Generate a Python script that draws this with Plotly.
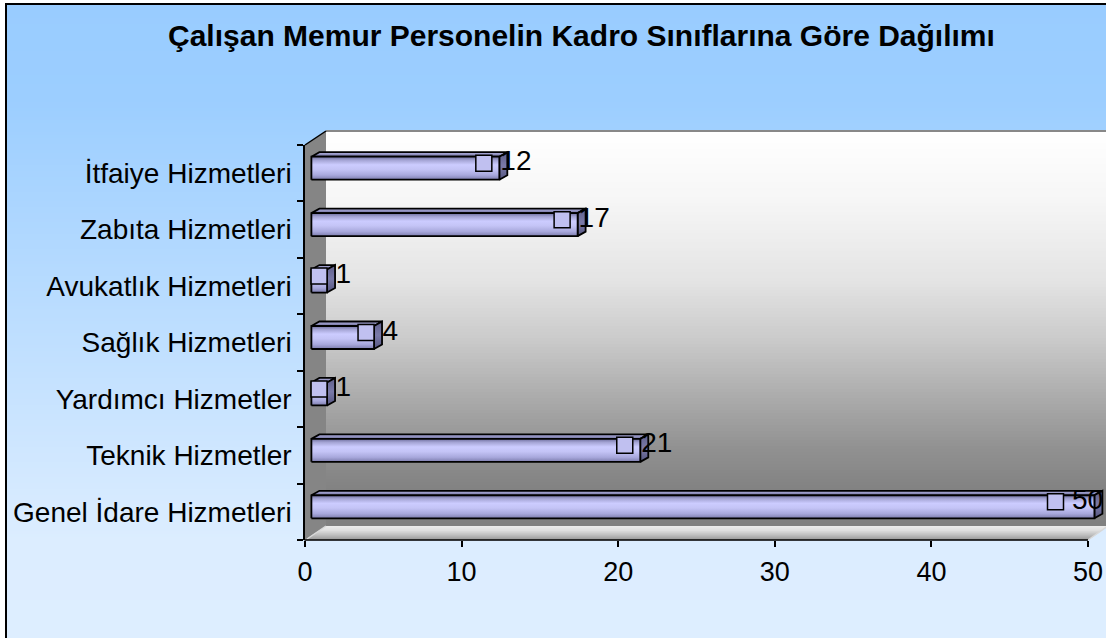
import plotly.graph_objects as go

categories = ["Genel İdare Hizmetleri", "Teknik Hizmetler", "Yardımcı Hizmetler",
              "Sağlık Hizmetleri", "Avukatlık Hizmetleri", "Zabıta Hizmetleri",
              "İtfaiye Hizmetleri"]
values = [50, 21, 1, 4, 1, 17, 12]
x_ticks = [0, 10, 20, 30, 40, 50]
title = "Çalışan Memur Personelin Kadro Sınıflarına Göre Dağılımı"

W, H = 1106, 638
L, R, T, B = 305, 1106, 145, 540      # plot area in pixels
PX_X = 15.66                           # pixels per unit on x
XMAX = (R - L) / PX_X
PX_Y = (B - T) / len(categories)      # pixels per category
FONT = "Liberation Sans, Arial, sans-serif"


def px(x):
    return (x - L) / (R - L)


def py(y):
    return (B - y) / (B - T)


def dx(p):
    return p / PX_X


def dy(p):
    return p / PX_Y


def hexc(c):
    return "#%02x%02x%02x" % tuple(int(round(v)) for v in c)


def interp(stops, y):
    for (y0, c0), (y1, c1) in zip(stops, stops[1:]):
        if y0 <= y <= y1:
            t = (y - y0) / (y1 - y0) if y1 > y0 else 0
            return hexc([a + (b - a) * t for a, b in zip(c0, c1)])
    return hexc(stops[-1][1])


shapes = []

# chart background gradient
bg_stops = [(0, (153, 204, 255)), (100, (156, 206, 255)), (540, (220, 237, 255)), (660, (222, 238, 255))]
for y in range(3, H, 3):
    shapes.append(dict(type="rect", xref="paper", yref="paper", layer="below",
                       x0=px(5), x1=px(W + 2), y0=py(y), y1=py(y + 3.5),
                       fillcolor=interp(bg_stops, y + 1.5), line_width=0))

# back wall gradient
wall_stops = [(131, (255, 255, 255)), (200, (246, 246, 246)), (280, (228, 228, 228)),
              (340, (202, 202, 202)), (400, (170, 170, 170)), (450, (144, 144, 144)),
              (490, (130, 130, 130)), (530, (128, 128, 128))]
for y in range(131, 526, 3):
    shapes.append(dict(type="rect", xref="paper", yref="paper", layer="below",
                       x0=px(326), x1=px(W + 10), y0=py(y), y1=py(min(y + 3.5, 526)),
                       fillcolor=interp(wall_stops, y + 1.5), line_width=0))
shapes.append(dict(type="line", xref="paper", yref="paper", layer="below",
                   x0=px(326), x1=px(W + 10), y0=py(131), y1=py(131),
                   line=dict(color="#888888", width=2)))

# side wall
shapes.append(dict(type="path", xref="paper", yref="paper", layer="below",
                   path="M %f %f L %f %f L %f %f L %f %f Z" % (
                       px(305), py(145), px(326), py(131), px(326), py(526), px(305), py(540)),
                   fillcolor="#858585", line_width=0))
shapes.append(dict(type="line", xref="paper", yref="paper", layer="below",
                   x0=px(305), y0=py(145), x1=px(326), y1=py(131),
                   line=dict(color="black", width=1.5)))

# floor
floor_stops = [(526, (236, 236, 236)), (530, (225, 225, 225)), (535, (190, 190, 190)), (540, (150, 150, 150))]
for y in range(526, 540):
    xl0, xl1 = 305 + (540 - y) * 1.5, 305 + (540 - y - 1) * 1.5
    xr0, xr1 = 1088 + (540 - y) * 1.43, 1088 + (540 - y - 1) * 1.43
    shapes.append(dict(type="path", xref="paper", yref="paper", layer="below",
                       path="M %f %f L %f %f L %f %f L %f %f Z" % (
                           px(xl0), py(y), px(xr0), py(y), px(xr1), py(y + 1.2), px(xl1), py(y + 1.2)),
                       fillcolor=interp(floor_stops, y + 0.5), line_width=0))
shapes.append(dict(type="line", xref="paper", yref="paper", layer="below",
                   x0=px(307), y0=py(539), x1=px(326), y1=py(526),
                   line=dict(color="#d8d8d8", width=1.5)))
shapes.append(dict(type="line", xref="paper", yref="paper", layer="below",
                   x0=px(1088), y0=py(540), x1=px(1108), y1=py(526),
                   line=dict(color="#d8d8d8", width=1.5)))

# x axis line (front edge of the floor)
shapes.append(dict(type="line", xref="paper", yref="paper",
                   x0=px(L - 0.5), y0=0, x1=x_ticks[-1] / XMAX, y1=0,
                   line=dict(color="black", width=1.5)))

# outer border
shapes.append(dict(type="line", xref="paper", yref="paper",
                   x0=px(6), y0=py(4), x1=px(6), y1=py(H + 2), line=dict(color="black", width=2)))
shapes.append(dict(type="line", xref="paper", yref="paper",
                   x0=px(5), y0=py(4), x1=px(W + 2), y1=py(4), line=dict(color="black", width=2)))

fig = go.Figure()

front_scale = [[0, "#7c7cac"], [0.2, "#a8a8dc"], [0.45, "#c4c4f6"], [0.65, "#ccccff"],
               [0.85, "#a4a4d4"], [1, "#6c6c9c"]]
top_scale = [[0, "#6e6e9a"], [1, "#b4b4e4"]]
side_scale = [[0, "#55557f"], [0.5, "#7a7aa8"], [1, "#60608c"]]

bx0 = dx(6.4)
bh = dy(11.5)
ddx, ddy = dx(8), dy(4.5)
outline = dict(color="black", width=1.8)

for i, v in enumerate(values):
    yc = i + dy(5)
    y0, y1 = yc - bh, yc + bh
    x1 = bx0 + v
    # top face
    fig.add_trace(go.Scatter(
        x=[bx0, x1, x1 + ddx, bx0 + ddx, bx0], y=[y1, y1, y1 + ddy, y1 + ddy, y1],
        mode="lines", fill="toself", line=outline,
        fillgradient=dict(type="vertical", colorscale=top_scale), hoverinfo="skip"))
    # end face
    fig.add_trace(go.Scatter(
        x=[x1, x1 + ddx, x1 + ddx, x1, x1], y=[y0, y0 + ddy, y1 + ddy, y1, y0],
        mode="lines", fill="toself", line=outline,
        fillgradient=dict(type="vertical", colorscale=side_scale), hoverinfo="skip"))
    # front face
    fig.add_trace(go.Scatter(
        x=[bx0, x1, x1, bx0, bx0], y=[y0, y0, y1, y1, y0],
        mode="lines", fill="toself", line=outline,
        fillgradient=dict(type="vertical", colorscale=front_scale), hoverinfo="skip"))

# data labels with legend key
key_x, key_y, lab_x = [], [], []
for i, v in enumerate(values):
    end = 6.4 + v * PX_X
    w = 17 + 9 + 15 * len(str(v))
    c = end + 4
    over = c + w / 2 - (1103 - L)
    if over > 0:
        c -= over
    key_x.append(dx(c - w / 2 + 8.5))
    lab_x.append(dx(c - w / 2 + 17 + 8))
    key_y.append(i + dy(10))

fig.add_trace(go.Scatter(
    x=key_x, y=key_y, mode="markers",
    marker=dict(symbol="square", size=16, color="#c0c0f0", line=dict(color="black", width=1.5)),
    cliponaxis=False, hoverinfo="skip"))
fig.add_trace(go.Scatter(
    x=lab_x, y=key_y, mode="text", text=[str(v) for v in values],
    textposition="middle right", textfont=dict(family=FONT, size=28, color="black"),
    cliponaxis=False, hoverinfo="skip"))

fig.add_annotation(text="<b>" + title + "</b>", xref="paper", yref="paper",
                   x=px(581), y=py(35), xanchor="center", yanchor="middle", showarrow=False,
                   font=dict(family=FONT, size=30, color="black"))

fig.update_layout(
    width=W, height=H, template="none",
    margin=dict(l=L, r=W - R, t=T, b=H - B, pad=0),
    paper_bgcolor="white", plot_bgcolor="rgba(0,0,0,0)",
    showlegend=False, shapes=shapes, font=dict(family=FONT, color="black"),
    xaxis=dict(range=[0, XMAX], tickvals=x_ticks, ticks="outside", ticklen=6, tickwidth=1.5,
               tickcolor="black", showline=False, showgrid=False, zeroline=False,
               tickfont=dict(family=FONT, size=27, color="black"), ticklabelstandoff=2),
    yaxis=dict(range=[-0.5, len(categories) - 0.5], tickvals=list(range(len(categories))),
               ticktext=categories, ticks="", showline=True, linecolor="black", linewidth=1.5,
               showgrid=False, zeroline=False,
               minor=dict(tickmode="array", tickvals=[k - 0.5 for k in range(len(categories) + 1)],
                          ticks="outside", ticklen=6, tickwidth=1.5, tickcolor="black", showgrid=False),
               tickfont=dict(family=FONT, size=28, color="black"), ticklabelstandoff=6),
)

fig.write_html("out.html", config={"displayModeBar": False},
               post_script="document.body.style.margin = '0';")
